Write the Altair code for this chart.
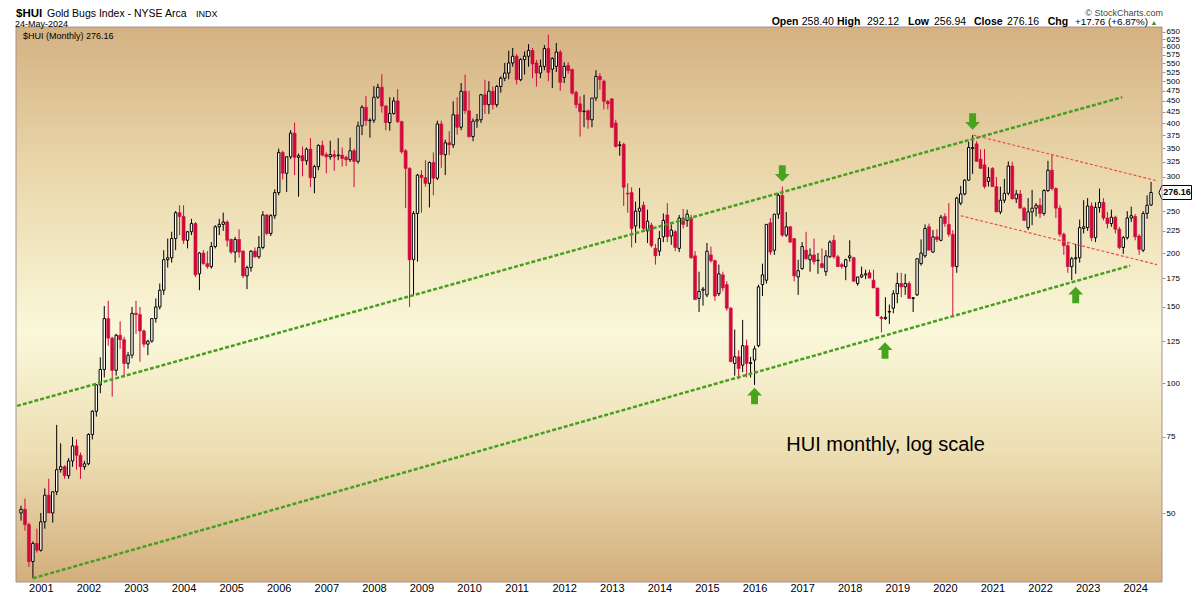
import altair as alt
import numpy as np
import pandas as pd

FONT = "Liberation Sans"
RED = "#d10a3c"
GREEN = "#46a020"
GREEN_ARROW = "#4aa31e"
RED_LINE = "#f24b4b"
BORDER = "#a89090"

# ---------------- monthly OHLC of $HUI, Aug 2000 .. May 2024 ----------------
OPEN = [
    50, 51, 47, 38.6, 42.5,
    41, 47.7, 55, 50, 56, 63, 64, 61, 66, 71.5, 68, 64,
    65, 76, 86, 99, 107.5, 141, 127, 107, 129, 126, 111, 116,
    145, 144, 132, 123, 125, 141, 150, 164, 193, 195, 216, 248,
    243, 214, 224, 234, 179, 200, 189, 186, 207, 230, 233, 236,
    215, 201, 215, 202, 177, 185, 202, 196, 206, 245, 222, 244,
    276, 342, 306, 334, 379, 333, 336, 327, 348, 299, 317, 355,
    338, 334, 338, 336, 337, 333, 329, 345, 326, 394, 435, 405,
    406, 459, 484, 438, 401, 421, 450, 403, 345, 314, 193, 247,
    303, 299, 290, 324, 298, 398, 338, 360, 356, 418, 391, 474,
    427, 372, 404, 407, 465, 441, 474, 441, 486, 508, 522, 551,
    571, 504, 561, 571, 589, 551, 522, 541, 595, 533, 541, 584,
    510, 544, 532, 471, 443, 425, 427, 407, 457, 513, 500, 449,
    455, 400, 355, 357, 275, 276, 231, 250, 258, 225, 232, 205,
    202, 218, 245, 219, 224, 205, 241, 238, 241, 197, 157, 164,
    160, 198, 192, 161, 178, 169, 149, 111, 115, 110, 122, 111,
    113, 122, 169, 173, 235, 203, 246, 272, 220, 230, 216, 176,
    184, 203, 193, 198, 192, 189, 181, 196, 214, 196, 188, 186,
    195, 195, 170, 176, 178, 180, 173, 166, 142, 141, 146, 149,
    161, 170, 167, 170, 157, 160, 189, 197, 230, 201, 218, 214,
    243, 233, 221, 186, 261, 274, 295, 349, 358, 330, 320, 293,
    314, 285, 249, 265, 275, 318, 267, 274, 254, 229, 249, 254,
    258, 247, 279, 311, 282, 254, 221, 208, 186, 194, 195, 228,
    229, 257, 217, 255, 262, 241, 234, 242, 227, 206, 217, 241,
    243, 219, 203, 247, 258.40,
]
HIGH = [
    52, 54, 47.5, 43, 46,
    50, 57, 60, 56, 80, 72.5, 64.5, 67, 75, 74, 69, 66,
    76.5, 86.5, 99.5, 114.7, 150.7, 155, 128, 130, 139, 128, 118, 150,
    155, 150, 133, 126, 141, 157, 170, 203, 216, 224, 250, 258,
    258, 225, 240, 236, 201, 203, 202, 212, 232, 240, 248, 238,
    216, 218, 227, 203, 187, 203, 206, 219, 250, 246, 246, 281,
    349, 345, 335, 385, 401, 340, 353, 351, 369, 320, 357, 364,
    342, 364, 346, 369, 351, 336, 370, 349, 403, 440, 462, 410,
    487, 493, 519, 440, 459, 459, 479, 405, 348, 316, 250, 305,
    311, 328, 326, 342, 405, 405, 366, 383, 449, 459, 495, 518,
    475, 410, 420, 467, 504, 500, 486, 490, 513, 551, 588, 597,
    578, 565, 586, 609, 597, 560, 561, 606, 641, 568, 613, 590,
    553, 553, 535, 475, 461, 465, 430, 457, 530, 522, 504, 452,
    457, 407, 363, 360, 290, 284, 263, 283, 263, 252, 235, 210,
    225, 247, 261, 233, 226, 245, 253, 252, 245, 202, 181, 167,
    211, 207, 193, 188, 181, 172, 150, 133, 119, 140, 126, 115,
    122, 169, 189, 233, 241, 246, 275, 285, 249, 231, 216, 193,
    212, 224, 205, 216, 200, 205, 203, 214, 220, 198, 190, 194,
    214, 196, 176, 186, 183, 183, 183, 166, 143, 158, 152, 164,
    180, 180, 179, 172, 158, 194, 215, 233, 234, 226, 227, 245,
    247, 261, 226, 270, 286, 296, 362, 375, 363, 348, 348, 316,
    316, 300, 285, 297, 326, 325, 280, 280, 256, 268, 280, 261,
    268, 281, 327, 337, 284, 258, 223, 212, 196, 210, 239, 265,
    268, 262, 262, 282, 268, 249, 252, 244, 230, 219, 250, 256,
    246, 221, 250, 272, 292.12,
]
LOW = [
    48, 45.5, 37.5, 35.3, 40.5,
    40.7, 46, 50, 47.5, 55, 62, 60, 60, 64, 63, 60, 63,
    64.5, 74, 83.6, 94.7, 103, 122, 93, 104, 120, 103, 108, 114,
    130, 112, 121, 116, 124, 138, 148, 160, 185, 190, 203, 220,
    210, 205, 220, 176, 164, 188, 184, 184, 205, 220, 225, 207,
    199, 190, 195, 175, 165, 181, 195, 194, 204, 220, 219, 240,
    272, 296, 277, 330, 303, 270, 301, 320, 284, 275, 311, 335,
    306, 329, 310, 328, 317, 318, 325, 284, 322, 375, 394, 370,
    400, 455, 423, 385, 384, 418, 400, 340, 254, 150, 159, 191,
    248, 285, 255, 272, 295, 315, 303, 337, 350, 376, 385, 420,
    370, 363, 390, 400, 420, 420, 430, 435, 470, 500, 505, 540,
    491, 500, 518, 540, 508, 486, 508, 530, 500, 482, 525, 475,
    495, 520, 465, 433, 372, 391, 388, 391, 450, 478, 430, 430,
    390, 351, 336, 257, 248, 206, 211, 228, 225, 211, 206, 188,
    197, 212, 212, 209, 202, 201, 228, 230, 194, 156, 146, 151,
    158, 190, 155, 159, 163, 147, 112, 104, 102, 106, 103, 103,
    99, 121, 159, 170, 198, 198, 240, 218, 218, 211, 172, 160,
    183, 193, 181, 188, 179, 185, 177, 195, 194, 186, 184, 173,
    191, 172, 168, 175, 174, 175, 166, 143, 131, 140, 137, 145,
    153, 158, 160, 157, 146, 159, 187, 195, 203, 200, 212, 213,
    230, 218, 142, 180, 258, 272, 294, 305, 325, 314, 282, 285,
    285, 249, 246, 261, 272, 266, 261, 254, 238, 226, 232, 243,
    241, 244, 277, 279, 241, 218, 198, 180, 173, 179, 190, 222,
    225, 213, 212, 248, 238, 228, 230, 222, 204, 199, 215, 236,
    214, 198, 201, 240, 256.94,
]
CLOSE = [
    51, 47, 38.6, 42.5, 41,
    47.7, 55, 50, 56, 63, 64, 61, 66, 71.5, 68, 64, 65,
    76, 86, 99, 107.5, 141, 127, 107, 129, 126, 111, 116, 145,
    144, 132, 123, 125, 141, 150, 164, 193, 195, 216, 248, 243,
    214, 224, 234, 178, 200, 189, 186, 207, 230, 233, 236, 214,
    201, 215, 201, 177, 185, 202, 196, 206, 245, 222, 244, 276,
    342, 306, 334, 379, 333, 336, 327, 348, 299, 317, 355, 337,
    334, 338, 334, 337, 331, 329, 345, 326, 394, 435, 405, 406,
    459, 484, 438, 401, 421, 450, 403, 343, 314, 193, 247, 303,
    299, 290, 324, 298, 398, 338, 360, 356, 418, 391, 474, 427,
    372, 404, 407, 465, 441, 474, 441, 486, 508, 522, 551, 571,
    504, 561, 571, 589, 548, 522, 541, 595, 524, 564, 584, 497,
    541, 529, 469, 441, 425, 426, 407, 457, 513, 504, 449, 443,
    391, 353, 356, 284, 274, 228, 250, 254, 228, 237, 208, 197,
    216, 238, 218, 226, 206, 241, 233, 246, 195, 156, 163, 165,
    202, 192, 159, 179, 166, 149, 112, 115, 108, 122, 111, 111.5,
    120, 167, 178, 233, 201, 246, 272, 220, 230, 212, 177, 182,
    207, 194, 198, 191, 192.5, 185, 197, 212, 196, 186, 186, 193,
    197, 172, 176, 178, 179, 175, 166, 143, 141, 142, 146.5, 161,
    170, 167, 170, 157, 157.5, 194, 200, 228, 203, 218, 215, 242,
    234, 221, 186, 268, 274, 295, 351, 351, 326, 314, 285, 299,
    285, 249, 265, 275, 318, 267, 274, 254, 238, 249, 254, 258,
    247, 279, 311, 282, 254, 221, 208, 186, 194, 195, 229, 230,
    257, 217, 255, 262, 241, 234, 242, 227, 206, 217, 241, 244,
    218, 204, 247, 258, 276.16,
]

# axis ticks (the 275 label sits under the last-price tag in the reference)
YEARS = list(range(2001, 2025))
Y_TICKS = [50, 75, 100, 125, 150, 175, 200, 225, 250, 300, 325, 350, 375,
           400, 425, 450, 475, 500, 525, 550, 575, 600, 625, 650]

# trend channels (decimal year, price)
GREEN_T = [[2000.5, 2023.729], [2000.833, 2023.896]]
GREEN_V = [[88.5, 459.0], [35.3, 187.0]]
RED_T = [[2020.600, 2024.458], [2020.333, 2024.458]]
RED_V = [[375.0, 294.0], [244.0, 188.0]]

# green arrow annotations (decimal year, price, direction)
ARROW_T = [2016.583, 2020.583, 2016.0, 2018.742, 2022.75]
ARROW_V = [305.6, 403.0, 93.3, 119.0, 159.8]
ARROW_DIR = ["down", "down", "up", "up", "up"]

NOTE_T, NOTE_V, NOTE_TXT = 2016.667, 69.6, "HUI monthly, log scale"
LAST_CLOSE = 276.16

# ---------------- frames ----------------
n = len(CLOSE)
T = [2000 + (7 + k) / 12 for k in range(n)]
df = pd.DataFrame({"t": T, "o": OPEN, "h": HIGH, "l": LOW, "c": CLOSE})
df["h"] = df[["h", "o", "c"]].max(axis=1)
df["l"] = df[["l", "o", "c"]].min(axis=1)
df["dir"] = np.where(df["c"] >= df["o"], "up", "down")
df["top"] = df[["o", "c"]].max(axis=1)
df["bot"] = df[["o", "c"]].min(axis=1)
up_df = df[df["dir"] == "up"]
dn_df = df[df["dir"] == "down"]

lines_g = pd.DataFrame([{"id": i, "t": t, "v": v}
                        for i in range(2) for t, v in zip(GREEN_T[i], GREEN_V[i])])
lines_r = pd.DataFrame([{"id": i, "t": t, "v": v}
                        for i in range(2) for t, v in zip(RED_T[i], RED_V[i])])
arrows = pd.DataFrame({"t": ARROW_T, "v": ARROW_V, "d": ARROW_DIR})
note = pd.DataFrame({"t": [NOTE_T], "v": [NOTE_V], "txt": [NOTE_TXT]})
tag = pd.DataFrame({"v": [LAST_CLOSE], "txt": [f"{LAST_CLOSE:.2f}"]})
ONE = pd.DataFrame({"k": [0]})

W, H = 1146, 555
XS = alt.Scale(domain=[2000 + 7 / 12, 2000 + 7 / 12 + 286.5 / 12], nice=False, zero=False)
YS = alt.Scale(type="log", domain=[34.61, 667.4], nice=False)

AXX = alt.Axis(values=YEARS, format="d", title="", ticks=False, tickSize=0, domain=False,
               grid=False, labelFont=FONT, labelFontSize=11, labelColor="#000000",
               labelPadding=9, labelBaseline="alphabetic", labelFlush=False, labelOverlap=False)
AXY = alt.Axis(orient="right", values=Y_TICKS, format="d", title="", ticks=True, tickSize=3,
               tickColor=BORDER, tickWidth=1, domain=False, grid=False, labelFont=FONT,
               labelFontSize=8, labelColor="#000000", labelPadding=1, labelOverlap=False,
               labelFlush=False, labelBaseline="middle")


def X(f="t"):
    return alt.X(f"{f}:Q", scale=XS, axis=AXX)


def Y(f):
    return alt.Y(f"{f}:Q", scale=YS, axis=AXY)


bg = alt.Chart(ONE).mark_rect(
    fill=alt.LinearGradient(
        gradient="linear", x1=0, x2=0, y1=0, y2=1,
        stops=[alt.GradientStop(color="#d4b182", offset=0),
               alt.GradientStop(color="#e9d6a9", offset=0.25),
               alt.GradientStop(color="#faf8da", offset=0.55),
               alt.GradientStop(color="#ecdcb0", offset=0.78),
               alt.GradientStop(color="#d3ae7d", offset=1)])
).encode(x=alt.value(0), x2=alt.value(W), y=alt.value(0), y2=alt.value(H))

wicks = alt.Chart(df).mark_rule(strokeWidth=1, clip=True).encode(
    x=X(), y=Y("l"), y2=alt.Y2("h:Q"),
    color=alt.Color("dir:N", scale=alt.Scale(domain=["up", "down"], range=["#000000", RED]),
                    legend=None))

up_bodies = alt.Chart(up_df).mark_bar(size=2.4, fill="white", stroke="black",
                                      strokeWidth=1, clip=True).encode(
    x=X(), y=Y("bot"), y2=alt.Y2("top:Q"))
dn_bodies = alt.Chart(dn_df).mark_bar(size=3.0, fill=RED, stroke=RED,
                                      strokeWidth=0.6, clip=True).encode(
    x=X(), y=Y("bot"), y2=alt.Y2("top:Q"))

green_lines = alt.Chart(lines_g).mark_line(strokeDash=[4, 2], strokeWidth=2.5,
                                           color=GREEN).encode(
    x=X(), y=Y("v"), detail="id:N")
red_lines = alt.Chart(lines_r).mark_line(strokeDash=[3, 2], strokeWidth=1.2,
                                         color=RED_LINE, clip=True).encode(
    x=X(), y=Y("v"), detail="id:N")

DOWN_PATH = "M-0.42,-1L0.42,-1L0.42,0.06L0.9,0.06L0,1L-0.9,0.06L-0.42,0.06Z"
UP_PATH = "M-0.42,1L0.42,1L0.42,-0.06L0.9,-0.06L0,-1L-0.9,-0.06L-0.42,-0.06Z"
arrows_dn = alt.Chart(arrows[arrows["d"] == "down"]).mark_point(
    shape=DOWN_PATH, size=272, filled=True, fill=GREEN_ARROW, opacity=1, strokeWidth=0
).encode(x=X(), y=Y("v"))
arrows_up = alt.Chart(arrows[arrows["d"] == "up"]).mark_point(
    shape=UP_PATH, size=272, filled=True, fill=GREEN_ARROW, opacity=1, strokeWidth=0
).encode(x=X(), y=Y("v"))

note_text = alt.Chart(note).mark_text(align="left", baseline="alphabetic", fontSize=20,
                                      font=FONT, color="#000000").encode(
    x=X(), y=Y("v"), text="txt:N")

TAG_PATH = "M-2.54,0L-2.11,-1L2.11,-1L2.11,1L-2.11,1Z"
tag_box = alt.Chart(tag).mark_point(shape=TAG_PATH, size=196, filled=True, fill="white",
                                    stroke="black", strokeWidth=1, opacity=1).encode(
    x=alt.value(1160.75), y=Y("v"))
tag_text = alt.Chart(tag).mark_text(fontSize=9, fontWeight="bold", font=FONT, align="center",
                                    baseline="middle", color="#000000").encode(
    x=alt.value(1161), y=Y("v"), text="txt:N")

border = alt.Chart(ONE).mark_rect(fill="transparent", stroke=BORDER, strokeWidth=1).encode(
    x=alt.value(0), x2=alt.value(W), y=alt.value(0), y2=alt.value(H))


def label(txt, px, py, size, weight="normal", align="left", color="#000000"):
    return alt.Chart(ONE).mark_text(text=txt, fontSize=size, fontWeight=weight, align=align,
                                    baseline="alphabetic", color=color, font=FONT).encode(
        x=alt.value(px), y=alt.value(py))


header = [
    label("$HUI", 0, -10, 11.5, "bold"),
    label("Gold Bugs Index - NYSE Arca", 31, -10, 10.5),
    label("INDX", 180, -10, 9),
    label("24-May-2024", -1, -0.5, 9),
    label("\u00a9 StockCharts.com", 1147, -11.5, 9, color="#444444", align="right"),
    label("Open", 755.7, -2, 10.5, "bold"),
    label("258.40", 785.7, -2, 10.5),
    label("High", 821, -2, 10.5, "bold"),
    label("292.12", 851, -2, 10.5),
    label("Low", 892, -2, 10.5, "bold"),
    label("256.94", 918, -2, 10.5),
    label("Close", 958, -2, 10.5, "bold"),
    label("276.16", 991, -2, 10.5),
    label("Chg", 1031.7, -2, 10.5, "bold"),
    label("+17.76 (+6.87%)", 1132, -2, 9.8, align="right"),
    label("\u25b2", 1138, -2.5, 7, color="#2e8b1e", align="center"),
    label("$HUI (Monthly) 276.16", 7, 11.5, 9),
]

layers = [bg, wicks, up_bodies, dn_bodies, green_lines, red_lines, arrows_dn, arrows_up,
          note_text, tag_box, tag_text, border] + header

chart = alt.layer(*layers).properties(
    width=W, height=H,
    padding={"left": 8, "top": 19, "right": 30, "bottom": 10},
    autosize=alt.AutoSizeParams(type="none"),
).configure_view(strokeWidth=0)

chart.save("out.html", embed_options={"renderer": "svg", "actions": False})
